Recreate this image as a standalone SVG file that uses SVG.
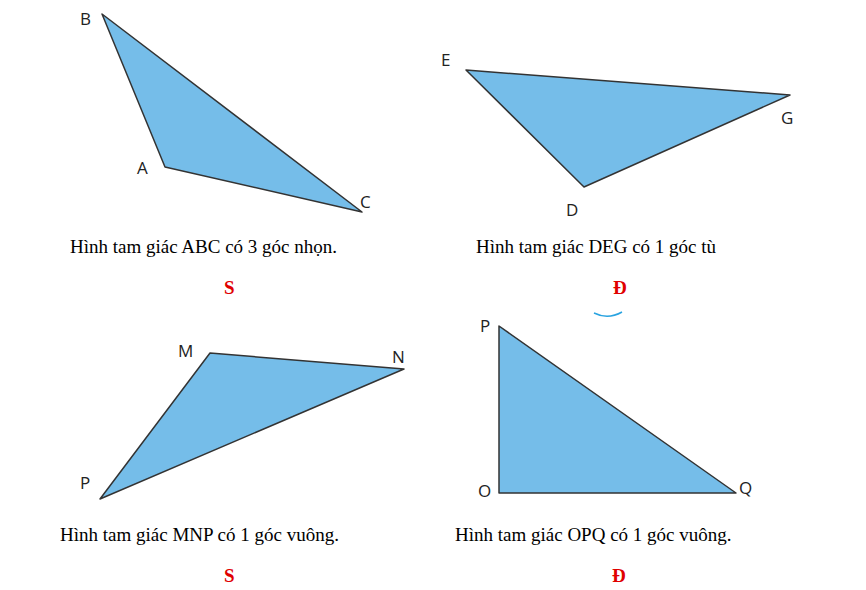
<svg xmlns="http://www.w3.org/2000/svg" width="866" height="590" viewBox="0 0 866 590">
<style>
.tri{fill:#75bde9;stroke:#333;stroke-width:1.5;stroke-linejoin:round}
.lb{font-family:"Open Sans","Noto Sans",sans-serif;font-size:17px;fill:#222}
.cap{font-family:"Liberation Serif",serif;font-size:19px;fill:#000}
.ans{font-family:"Liberation Serif",serif;font-size:19px;font-weight:bold;fill:#e00000}
</style>
<rect width="866" height="590" fill="#fff"/>
<g id="ABC"><polygon class="tri" points="102,14 165,167 362,212"/>
<text class="lb" x="80" y="25">B</text><text class="lb" x="137" y="174">A</text><text class="lb" x="360" y="208">C</text></g>
<g id="DEG"><polygon class="tri" points="466,70 790,95 584,187"/>
<text class="lb" x="441" y="66">E</text><text class="lb" x="781" y="124">G</text><text class="lb" x="566" y="216">D</text></g>
<g id="MNP"><polygon class="tri" points="210,353 404,369 100,499"/>
<text class="lb" x="178" y="357">M</text><text class="lb" x="392" y="363">N</text><text class="lb" x="80" y="489">P</text></g>
<g id="OPQ"><polygon class="tri" points="499,326 499,493 736,493"/>
<text class="lb" x="480" y="332">P</text><text class="lb" x="478" y="497">O</text><text class="lb" x="739" y="494">Q</text></g>
<g id="connectors"><path d="M594,313 Q608,320 622,312" fill="none" stroke="#29a3e0" stroke-width="1.5"/></g>
<g id="texts">
<text class="cap" x="70" y="253">Hình tam giác ABC có 3 góc nhọn.</text>
<text class="cap" x="476" y="253">Hình tam giác DEG có 1 góc tù</text>
<text class="cap" x="60" y="541">Hình tam giác MNP có 1 góc vuông.</text>
<text class="cap" x="455" y="541">Hình tam giác OPQ có 1 góc vuông.</text>
<text class="ans" x="224" y="294">S</text>
<text class="ans" x="613" y="294">Đ</text>
<text class="ans" x="224" y="582">S</text>
<text class="ans" x="612" y="582">Đ</text>
</g>
</svg>
